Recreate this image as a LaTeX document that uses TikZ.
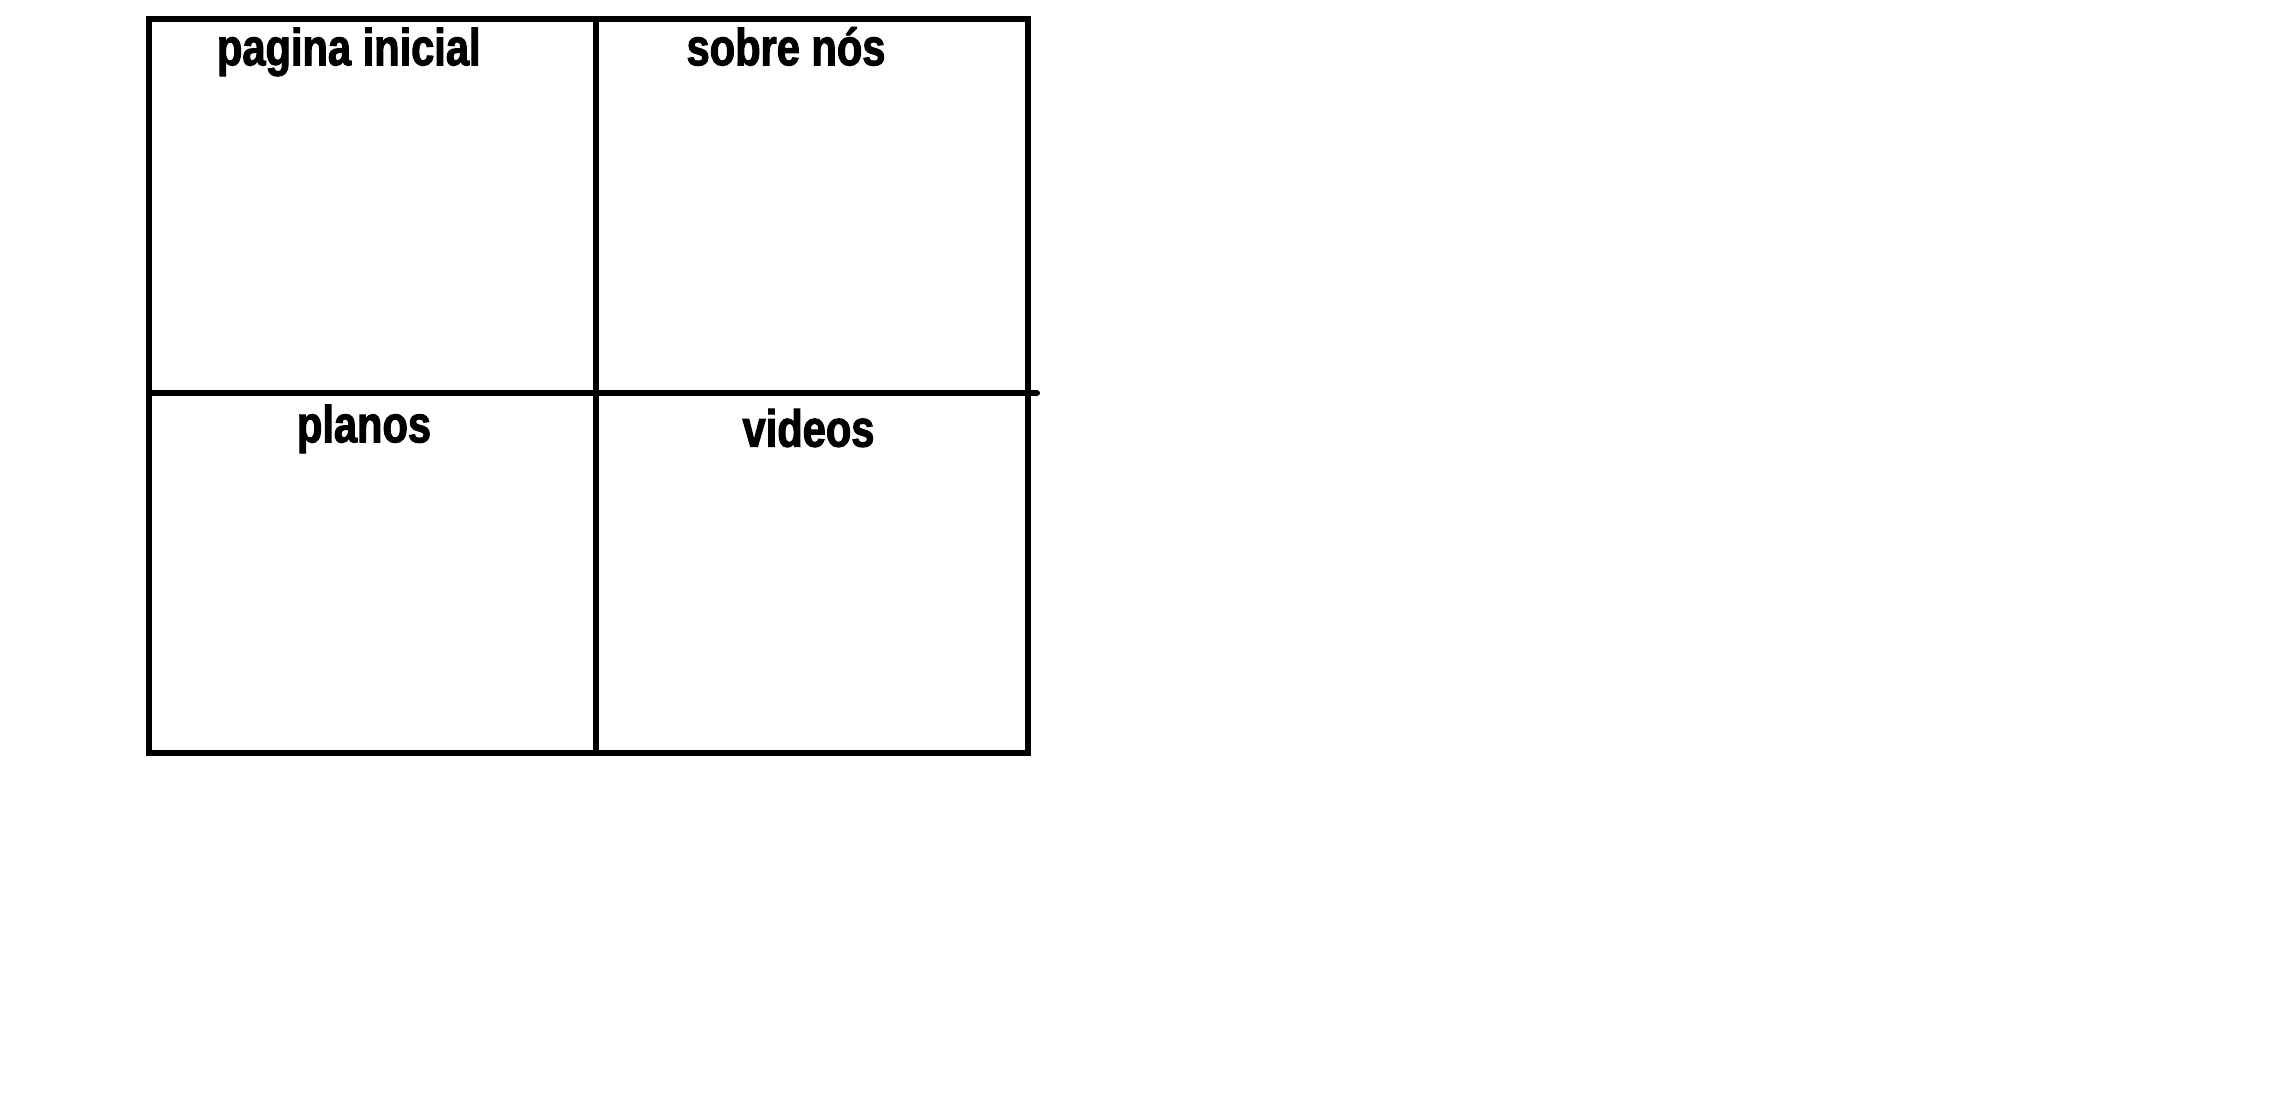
\documentclass[tikz,border=0pt]{standalone}
\usepackage{fontspec}
\newfontfamily\pagefont[FakeStretch=0.8,FakeBold=2]{Liberation Sans}
\tikzset{pagelabel/.style={anchor=base, inner sep=0pt, font=\pagefont\bfseries\fontsize{10.2}{12}\selectfont}}

\begin{document}
\begin{tikzpicture}[x=0.01cm, y=-0.01cm, line width=1.2pt]
  \useasboundingbox (0,0) rectangle (1568,771);
  % frame
  \draw (103,13) -- ++(606,0) -- ++(0,506) -- ++(-606,0) -- cycle;
  % middle lines
  \draw (411,13) -- ++(0,506);
  \draw[line cap=round] (103,271) -- ++(612,0);

  \node[pagelabel] (inicial) at (240.5,45) {pagina inicial};
  \node[pagelabel] (sobre) at (542,45) {sobre nós};
  \node[pagelabel] (planos) at (251,305) {planos};
  \node[pagelabel] (videos) at (557.5,308) {videos};

\end{tikzpicture}
\end{document}
